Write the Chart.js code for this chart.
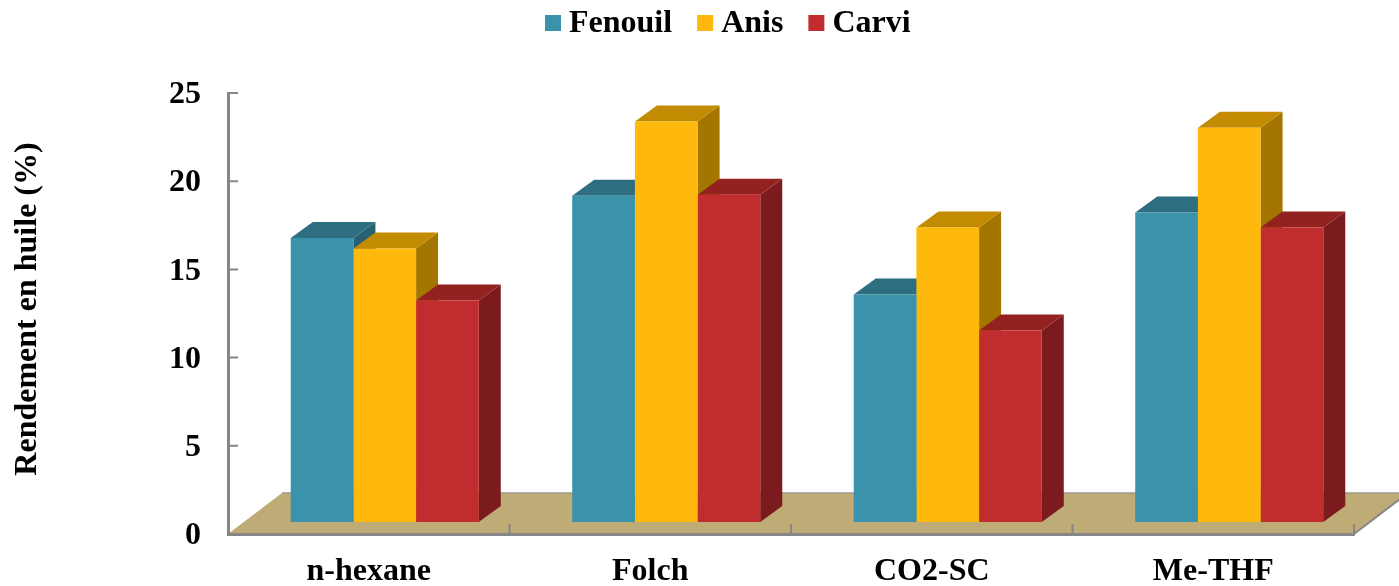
<!DOCTYPE html>
<html>
<head>
    <title>Rendement en huile</title>
    <script src="https://cdn.jsdelivr.net/npm/chart.js"></script>
    <style>
        html, body { margin: 0; padding: 0; background: #fff; overflow: hidden; }
        .chart-container { width: 1399px; height: 586px; }
    </style>
</head>
<body>
    <div class="chart-container"><canvas id="oilChart"></canvas></div>
    <script>
        const categories = ['n-hexane', 'Folch', 'CO2-SC', 'Me-THF'];
        const fenouil = [16.1, 18.5, 12.9, 17.55];
        const anis = [15.5, 22.7, 16.7, 22.35];
        const carvi = [12.55, 18.55, 10.85, 16.7];
        const yTicks = [0, 5, 10, 15, 20, 25];
        const yTitle = 'Rendement en huile (%)';

        const serifBold = 'bold 32px "Liberation Serif", "Times New Roman", serif';
        const axisGrey = '#868686';
        const barShift = { x: 16, y: -12 };   // bars stand further back on the floor
        const barDepth = { x: 22, y: -16 };
        const floorDepth = { x: 54, y: -41 };

        const shades = [
            { top: '#2D6E80', side: '#286272' },
            { top: '#C28B02', side: '#A37600' },
            { top: '#93211F', side: '#7B1B1D' }
        ];

        function poly(ctx, pts, fill) {
            ctx.beginPath();
            pts.forEach((p, i) => i ? ctx.lineTo(p[0], p[1]) : ctx.moveTo(p[0], p[1]));
            ctx.closePath();
            ctx.fillStyle = fill;
            ctx.fill();
        }

        // Floor goes under the axis lines
        const floorPlugin = {
            id: 'floor',
            beforeDraw(chart) {
                const { ctx, chartArea: a } = chart;
                const dx = floorDepth.x, dy = floorDepth.y;
                ctx.save();
                poly(ctx, [[a.left, a.bottom], [a.right, a.bottom], [a.right + dx, a.bottom + dy], [a.left + dx, a.bottom + dy]], '#BFAB75');
                ctx.strokeStyle = '#9A9A8E';
                ctx.lineWidth = 1.5;
                ctx.beginPath();
                ctx.moveTo(a.left + dx, a.bottom + dy);
                ctx.lineTo(a.right + dx, a.bottom + dy);
                ctx.stroke();
                ctx.strokeStyle = axisGrey;
                ctx.lineWidth = 2;
                ctx.beginPath();
                ctx.moveTo(a.right, a.bottom);
                ctx.lineTo(a.right + dx, a.bottom + dy);
                ctx.stroke();
                ctx.restore();
            }
        };

        // Inward ticks, then tops and sides of the bars, then shift for the fronts
        const bars3dPlugin = {
            id: 'bars3d',
            beforeDatasetsDraw(chart) {
                const { ctx, chartArea: a, scales } = chart;
                ctx.save();
                ctx.strokeStyle = axisGrey;
                ctx.lineWidth = 2;
                ctx.beginPath();
                yTicks.forEach(v => {
                    const y = scales.y.getPixelForValue(v);
                    ctx.moveTo(a.left, y);
                    ctx.lineTo(a.left + 10, y);
                });
                for (let i = 1; i <= categories.length; i++) {
                    const x = a.left + i * a.width / categories.length;
                    ctx.moveTo(x, a.bottom);
                    ctx.lineTo(x, a.bottom - 10);
                }
                ctx.stroke();
                ctx.restore();

                ctx.save();
                ctx.translate(barShift.x, barShift.y);
                const dx = barDepth.x, dy = barDepth.y;
                categories.forEach((c, i) => {
                    chart.data.datasets.forEach((ds, d) => {
                        const bar = chart.getDatasetMeta(d).data[i];
                        const l = bar.x - bar.width / 2, r = bar.x + bar.width / 2;
                        poly(ctx, [[r, bar.base], [r + dx, bar.base + dy], [r + dx, bar.y + dy], [r, bar.y]], shades[d].side);
                        poly(ctx, [[l, bar.y], [r, bar.y], [r + dx, bar.y + dy], [l + dx, bar.y + dy]], shades[d].top);
                    });
                });
            },
            afterDatasetsDraw(chart) {
                chart.ctx.restore();
            }
        };

        // Legend sits right of centre in the original, and its box-to-text gap is tighter than the built-in one
        const textPlugin = {
            id: 'texts',
            afterDraw(chart) {
                const ctx = chart.ctx;
                const box = 16, gap = 8, between = 25;
                ctx.save();
                ctx.font = serifBold;
                ctx.textBaseline = 'alphabetic';
                let x = 545;
                chart.data.datasets.forEach(ds => {
                    ctx.fillStyle = ds.backgroundColor;
                    ctx.fillRect(x, 15, box, box);
                    x += box + gap;
                    ctx.fillStyle = '#000';
                    ctx.fillText(ds.label, x, 32);
                    x += ctx.measureText(ds.label).width + between;
                });
                ctx.translate(36, 309);
                ctx.rotate(-Math.PI / 2);
                ctx.textAlign = 'center';
                ctx.fillText(yTitle, 0, 0);
                ctx.restore();
            }
        };

        new Chart(document.getElementById('oilChart'), {
            type: 'bar',
            data: {
                labels: categories,
                datasets: [
                    { label: 'Fenouil', data: fenouil, backgroundColor: '#3A92AB' },
                    { label: 'Anis', data: anis, backgroundColor: '#FFB80C' },
                    { label: 'Carvi', data: carvi, backgroundColor: '#C12D2F' }
                ]
            },
            options: {
                responsive: true,
                maintainAspectRatio: false,
                animation: false,
                categoryPercentage: 0.668,
                barPercentage: 1,
                layout: { padding: { top: 93, right: 45, left: 0, bottom: 0 } },
                plugins: {
                    legend: { display: false },
                    tooltip: { enabled: false }
                },
                scales: {
                    x: {
                        grid: { display: false, drawTicks: false },
                        border: { color: axisGrey, width: 3 },
                        ticks: { color: '#000', font: { family: '"Liberation Serif"', size: 32, weight: 'bold' }, padding: 19, maxRotation: 0 },
                        afterFit(scale) { scale.height = 52; }
                    },
                    y: {
                        min: 0,
                        max: 25,
                        afterBuildTicks(scale) { scale.ticks = yTicks.map(v => ({ value: v })); },
                        grid: { display: false, drawTicks: false },
                        border: { color: axisGrey, width: 3 },
                        ticks: { color: '#000', font: { family: '"Liberation Serif"', size: 32, weight: 'bold' }, padding: 27, labelOffset: 2 },
                        afterFit(scale) { scale.width = 228; }
                    }
                }
            },
            plugins: [floorPlugin, bars3dPlugin, textPlugin]
        });
    </script>
</body>
</html>
